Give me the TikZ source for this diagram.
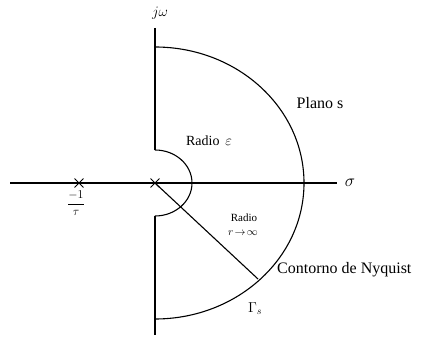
\documentclass[tikz,border=0pt]{standalone}
\usepackage{amsmath}
\usepackage{fontspec}
\setmainfont{Liberation Serif}
\usepackage{tikz}
\usetikzlibrary{shapes.misc, positioning}

\begin{document}
\begin{tikzpicture}[
  x=1pt, y=1pt,
  ax/.style={line width=1.4pt, black},
  ln/.style={line width=1.1pt, black},
  pole/.style={cross out, draw, line width=0.9pt, minimum size=8pt, inner sep=0pt},
  lbl/.style={font=\fontsize{16}{18}\selectfont, inner sep=1pt},
  sml/.style={font=\fontsize{11}{12}\selectfont, inner sep=0.5pt},
]
  \useasboundingbox (0,0) rectangle (428,339);

  % axes
  \coordinate (org)   at (155,156);
  \coordinate (ytop)  at (155,311);
  \coordinate (ybot)  at (155,4);
  \coordinate (xlft)  at (10,156);
  \coordinate (xrgt)  at (337,156);
  \coordinate (bigT)  at (155,292);
  \coordinate (smT)   at (155,189);
  \coordinate (smB)   at (155,123);
  \coordinate (rEnd)  at (258,60);

  \draw[ax] (xlft) -- (xrgt);
  \draw[ax] (ytop) -- (smT);
  \draw[ax] (smB) -- (ybot);

  % contour
  \draw[ln] (bigT) arc[start angle=90, end angle=-90, x radius=149, y radius=136];
  \draw[ln] (smT) arc[start angle=90, end angle=-90, x radius=37, y radius=33];
  \draw[ln] (org) -- (rEnd);

  % poles
  \node[pole] (p0) at (org) {};
  \node[pole] (p1) at (79,156) {};

  % labels
  \node[lbl, font=\fontsize{15}{17}\selectfont] (jw) at (160,326) {$j\omega$};
  \node[lbl] (sig)  at (350,156) {$\sigma$};
  \node[lbl] (pln)  at (320,236) {Plano s};
  \node[lbl, font=\fontsize{14}{16}\selectfont] (reps) at (209,198) {Radio~\,$\varepsilon$};
  \node[sml] (rad)  at (244,121) {Radio};
  \node[sml] (rinf) at (243,106) {$r\!\rightarrow\!\infty$};
  \node[lbl, anchor=west] (nyq) at (276,69) {Contorno de Nyquist};
  \node[lbl, font=\fontsize{14}{16}\selectfont] (gam) at (255,30) {$\Gamma_s$};
  \node[lbl, font=\fontsize{13}{15}\selectfont] (tau) at (76,136) {$\dfrac{-1}{\tau}$};
\end{tikzpicture}
\end{document}
